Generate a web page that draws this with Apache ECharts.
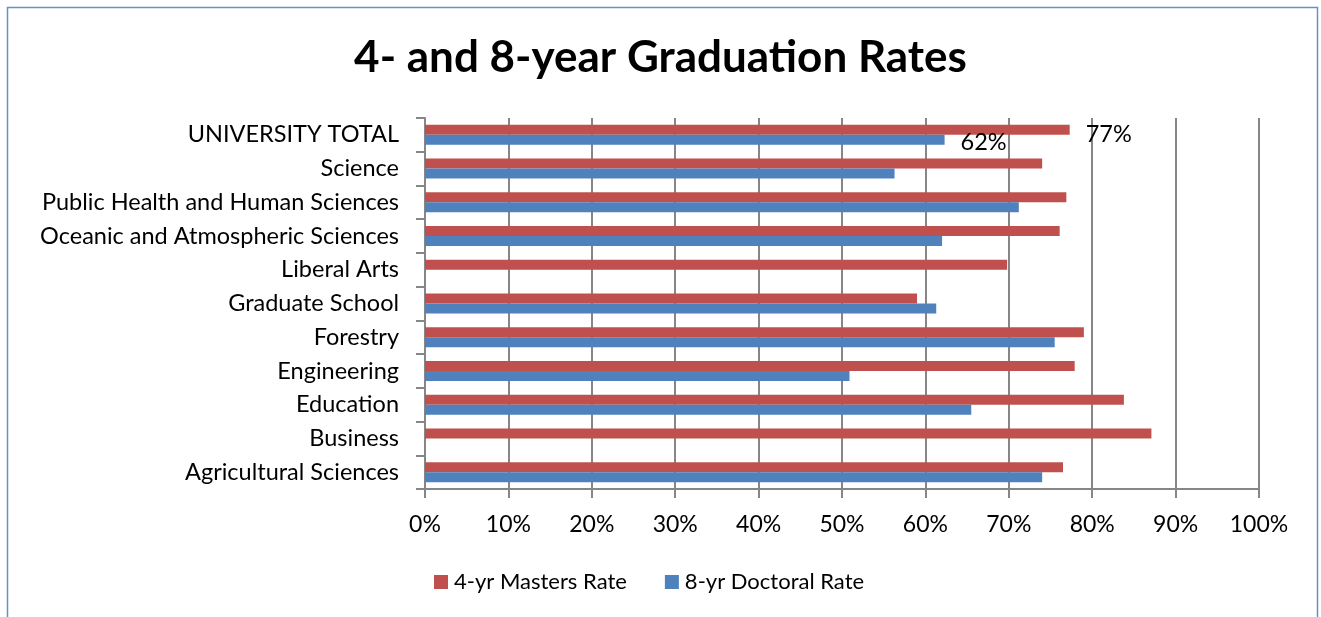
<!DOCTYPE html>
<html>
<head>
<meta charset="utf-8">
<title>4- and 8-year Graduation Rates</title>
<script src="https://cdn.jsdelivr.net/npm/echarts@6/dist/echarts.min.js"></script>
<style>
    html, body { margin: 0; padding: 0; background: #fff; }
    #main { width: 1321px; height: 617px; }
</style>
</head>
<body>
<div id="main"></div>
<script>
// colleges, top to bottom as drawn
var colleges = ['UNIVERSITY TOTAL', 'Science', 'Public Health and Human Sciences',
    'Oceanic and Atmospheric Sciences', 'Liberal Arts', 'Graduate School', 'Forestry',
    'Engineering', 'Education', 'Business', 'Agricultural Sciences'];
// rates in percent, '-' where no bar
var mastersRate = [77.3, 74.0, 76.9, 76.1, 69.8, 59.0, 79.0, 77.9, 83.8, 87.1, 76.5];
var doctoralRate = [62.3, 56.3, 71.2, 62.0, '-', 61.3, 75.5, 50.9, 65.5, '-', 74.0];
var seriesNames = ['4-yr Masters Rate', '8-yr Doctoral Rate'];

var font = 'Lato, "Open Sans", sans-serif';

function labelled(arr, idx, offset) {
    // only the first value of each series carries a label
    return arr.map(function (v, i) {
        if (i !== idx) return v;
        return {
            value: v,
            label: {
                show: true,
                position: 'right',
                distance: 16,
                offset: offset,
                color: '#000',
                fontSize: 23.5,
                fontFamily: font,
                formatter: function (p) { return Math.round(p.value) + '%'; }
            }
        };
    });
}

var chart = echarts.init(document.getElementById('main'));
var option = {
    animation: false,
    color: ['#c0504d', '#4f81bd'],
    graphic: [{
        type: 'rect',
        shape: { x: 7.5, y: 7.5, width: 1310, height: 630 },
        style: { fill: 'none', stroke: '#6a8fc5', lineWidth: 1.5 },
        silent: true
    }],
    title: {
        text: '4- and 8-year Graduation Rates',
        left: 'center',
        top: 31,
        textStyle: { fontFamily: font, fontSize: 44, fontWeight: 'bold', color: '#000' }
    },
    legend: {
        left: 429,
        top: 566,
        itemWidth: 14,
        itemHeight: 14,
        itemGap: 38,
        icon: 'rect',
        textStyle: { fontFamily: font, fontSize: 22, color: '#000', padding: [0, 0, 0, 1] },
        data: seriesNames
    },
    grid: { left: 425, right: 62, top: 118, height: 371, containLabel: false },
    xAxis: {
        type: 'value',
        min: 0,
        max: 100,
        interval: 10,
        axisLine: { show: true, lineStyle: { color: '#868686', width: 2 } },
        axisTick: { show: true, length: 9, inside: false, lineStyle: { color: '#868686', width: 2 } },
        splitLine: { show: true, lineStyle: { color: '#868686', width: 2 } },
        axisLabel: { margin: 24, color: '#000', fontSize: 23, fontFamily: font, formatter: '{value}%' }
    },
    yAxis: {
        type: 'category',
        inverse: true,
        data: colleges,
        axisLine: { show: true, lineStyle: { color: '#868686', width: 2 } },
        axisTick: { show: true, length: 9, lineStyle: { color: '#868686', width: 2 } },
        axisLabel: { margin: 26, color: '#000', fontSize: 23.5, fontFamily: font }
    },
    series: [{
        name: seriesNames[0],
        type: 'bar',
        barWidth: 10,
        barGap: '0%',
        data: labelled(mastersRate, 0, [0, 5])
    }, {
        name: seriesNames[1],
        type: 'bar',
        barWidth: 10,
        barGap: '0%',
        data: labelled(doctoralRate, 0, [0, 3])
    }]
};
chart.setOption(option);
</script>
</body>
</html>
